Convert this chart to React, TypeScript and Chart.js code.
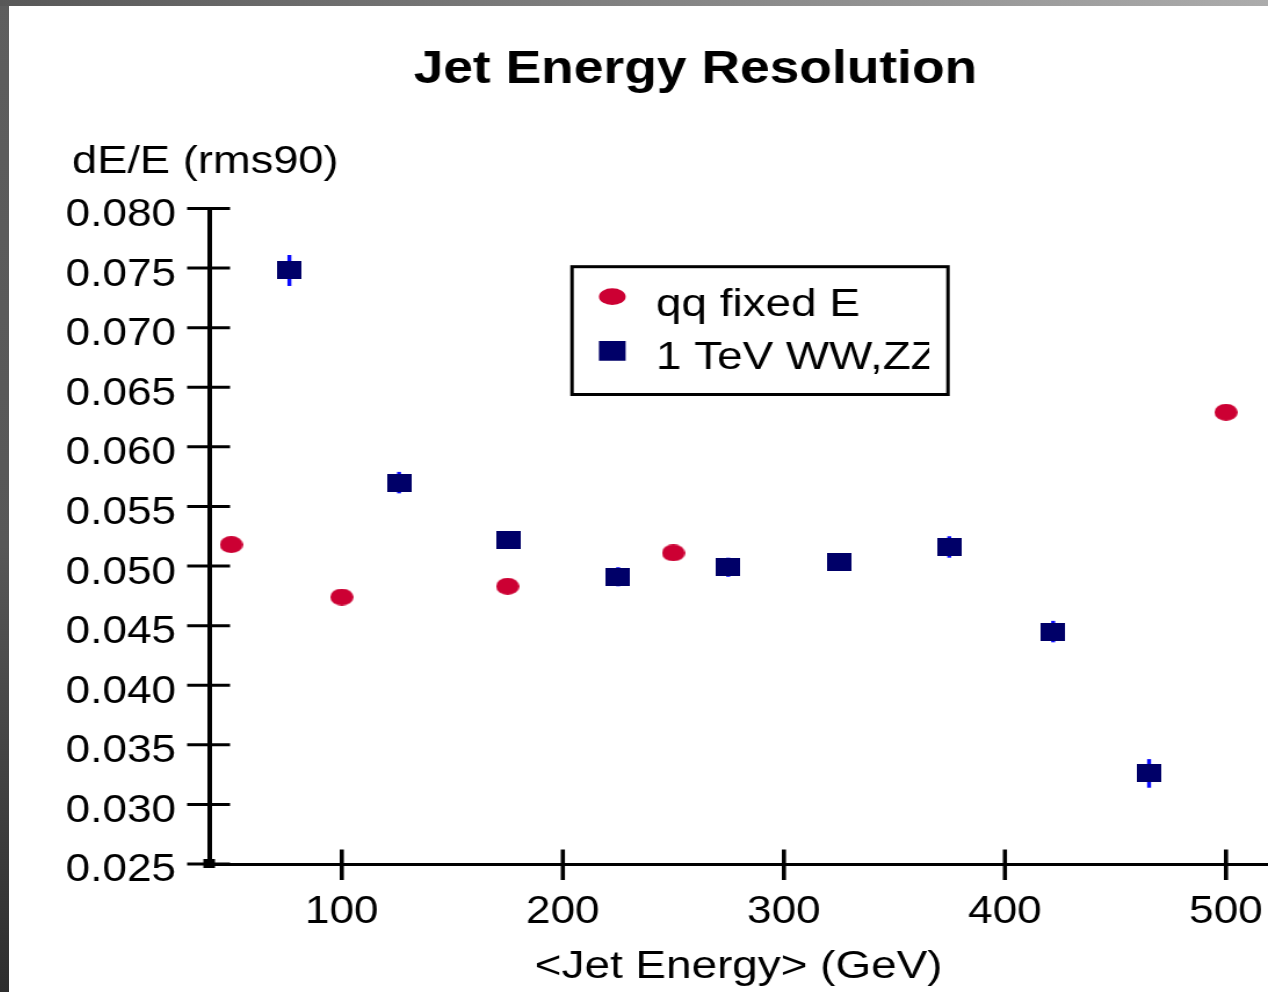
import React, { useEffect, useRef } from "react";
import { Chart, registerables } from "chart.js";

Chart.register(...registerables);

// ---- data -------------------------------------------------------------
const chartTitle = "Jet Energy Resolution";
const yCaption = "dE/E (rms90)";
const xCaption = "<Jet Energy> (GeV)";
const seriesLabels = ["qq fixed E", "1 TeV WW,ZZ"];

const qqEnergy = [50, 100, 175, 250, 500];
const qqResolution = [0.0518, 0.0474, 0.0483, 0.0511, 0.0629];

const wwEnergy = [76.3, 125.9, 175.2, 225, 274.8, 325, 374.8, 421.8, 465.2];
const wwResolution = [0.0748, 0.057, 0.0522, 0.0491, 0.0499, 0.0503, 0.0516, 0.0445, 0.0326];
const wwError = [0.0013, 0.0009, 0.0007, 0.0008, 0.0008, 0.0007, 0.0009, 0.0009, 0.0012];

const xTickValues = [100, 200, 300, 400, 500];
const yTickValues = [0.025, 0.03, 0.035, 0.04, 0.045, 0.05, 0.055, 0.06, 0.065, 0.07, 0.075, 0.08];

// ---- look -------------------------------------------------------------
const FONT = "'Liberation Sans', Arial, Helvetica, sans-serif";
const RED = "#cc0033";
const NAVY = "#000068";
const ERR_BLUE = "#0a0aff";

// the drawing surface is rendered narrower and widened by CSS,
// which gives the wide lettering and oval dots of the slide
const CANVAS_W = 1085;
const CANVAS_H = 986;
const DISPLAY_W = 1259;

const AREA_LEFT = 172.5;
const AREA_TOP = 202.5;
const AREA_BOTTOM = 858;

type MarkerKind = "ellipse" | "rect";

function drawMarker(
  ctx: CanvasRenderingContext2D,
  kind: MarkerKind,
  cx: number,
  cy: number,
  w: number,
  h: number,
  color: string
) {
  ctx.fillStyle = color;
  ctx.beginPath();
  if (kind === "ellipse") {
    ctx.ellipse(cx, cy, w / 2, h / 2, 0, 0, Math.PI * 2);
  } else {
    ctx.rect(cx - w / 2, cy - h / 2, w, h);
  }
  ctx.fill();
}

function markerImage(kind: MarkerKind, w: number, h: number, color: string) {
  const c = document.createElement("canvas");
  c.width = w;
  c.height = h;
  const ctx = c.getContext("2d")!;
  drawMarker(ctx, kind, w / 2, h / 2, w, h, color);
  return c;
}

// vertical error bars, painted under the markers
const errorBarPlugin = {
  id: "errorBars",
  beforeDatasetsDraw(chart: any, _args: any, opts: any) {
    const { ctx, scales } = chart;
    const xs = scales.x;
    const ys = scales.y;
    chart.data.datasets.forEach((ds: any) => {
      const errs: number[] | undefined = ds.yErrors;
      if (!errs) return;
      ctx.save();
      ctx.strokeStyle = opts.color;
      ctx.lineWidth = opts.width;
      ds.data.forEach((p: any, i: number) => {
        const px = xs.getPixelForValue(p.x);
        ctx.beginPath();
        ctx.moveTo(px, ys.getPixelForValue(p.y - errs[i]));
        ctx.lineTo(px, ys.getPixelForValue(p.y + errs[i]));
        ctx.stroke();
      });
      ctx.restore();
    });
  },
};

// tick marks that cross the axis lines
const crossTickPlugin = {
  id: "crossTicks",
  afterDraw(chart: any, _args: any, opts: any) {
    const { ctx, chartArea, scales } = chart;
    const xs = scales.x;
    const ys = scales.y;
    ctx.save();
    ctx.strokeStyle = opts.color;
    ctx.lineWidth = opts.yTickWidth;
    ys.ticks.forEach((t: any) => {
      const py = ys.getPixelForValue(t.value);
      ctx.beginPath();
      ctx.moveTo(chartArea.left - opts.yOut, py);
      ctx.lineTo(chartArea.left + opts.yIn, py);
      ctx.stroke();
    });
    ctx.lineWidth = opts.xTickWidth;
    xs.ticks.forEach((t: any) => {
      const px = xs.getPixelForValue(t.value);
      ctx.beginPath();
      ctx.moveTo(px, chartArea.bottom - opts.xIn);
      ctx.lineTo(px, chartArea.bottom + opts.xOut);
      ctx.stroke();
    });
    ctx.fillStyle = opts.color;
    ctx.fillRect(chartArea.left - 5, chartArea.bottom - 5, 10, 9);
    ctx.restore();
  },
};

// chart heading and the horizontal y-axis caption
const headingPlugin = {
  id: "heading",
  afterDraw(chart: any, _args: any, opts: any) {
    const { ctx } = chart;
    ctx.save();
    ctx.fillStyle = "#000000";
    ctx.textBaseline = "alphabetic";
    ctx.font = `bold ${opts.titleSize}px ${FONT}`;
    ctx.textAlign = "center";
    ctx.fillText(opts.title, opts.titleX, opts.titleBaseline);
    ctx.font = `${opts.captionSize}px ${FONT}`;
    ctx.textAlign = "left";
    ctx.fillText(opts.caption, opts.captionX, opts.captionBaseline);
    ctx.restore();
  },
};

// framed legend built from the datasets
const boxLegendPlugin = {
  id: "boxLegend",
  afterDraw(chart: any, _args: any, opts: any) {
    const { ctx } = chart;
    const b = opts.box;
    ctx.save();
    ctx.fillStyle = "#ffffff";
    ctx.fillRect(b.left, b.top, b.right - b.left, b.bottom - b.top);
    ctx.strokeStyle = "#000000";
    ctx.lineWidth = opts.borderWidth;
    ctx.strokeRect(b.left, b.top, b.right - b.left, b.bottom - b.top);

    ctx.beginPath();
    ctx.rect(b.left, b.top, opts.clipRight - b.left, b.bottom - b.top);
    ctx.clip();

    chart.data.datasets.forEach((ds: any, i: number) => {
      const [w, h] = opts.markerSizes[i];
      drawMarker(ctx, ds.markerKind, opts.markerX, opts.markerY[i], w, h, ds.markerColor);
      ctx.fillStyle = "#000000";
      ctx.font = `${opts.size}px ${FONT}`;
      ctx.textAlign = "left";
      ctx.textBaseline = "alphabetic";
      ctx.fillText(ds.label, opts.textX, opts.textBaseline[i]);
    });
    ctx.restore();
  },
};

export default function App() {
  const canvasRef = useRef<HTMLCanvasElement | null>(null);

  useEffect(() => {
    const canvas = canvasRef.current;
    if (!canvas) return;

    const ellipseImg = markerImage("ellipse", 20, 17, RED);
    const squareImg = markerImage("rect", 21, 18, NAVY);

    const chart = new Chart(canvas, {
      type: "scatter",
      data: {
        datasets: [
          {
            label: seriesLabels[0],
            data: qqEnergy.map((e, i) => ({ x: e, y: qqResolution[i] })),
            pointStyle: ellipseImg,
            pointRadius: 10,
            markerKind: "ellipse",
            markerColor: RED,
          } as any,
          {
            label: seriesLabels[1],
            data: wwEnergy.map((e, i) => ({ x: e, y: wwResolution[i] })),
            pointStyle: squareImg,
            pointRadius: 10,
            yErrors: wwError,
            markerKind: "rect",
            markerColor: NAVY,
          } as any,
        ],
      },
      options: {
        animation: false,
        responsive: false,
        devicePixelRatio: 1,
        events: [],
        layout: {
          autoPadding: false,
          padding: { left: 0, right: 0, top: AREA_TOP, bottom: 0 },
        },
        plugins: {
          legend: { display: false },
          title: { display: false },
          tooltip: { enabled: false },
          errorBars: { color: ERR_BLUE, width: 3.4 },
          crossTicks: {
            color: "#000000",
            yTickWidth: 3,
            xTickWidth: 3.6,
            yOut: 19,
            yIn: 18,
            xIn: 14.5,
            xOut: 16,
          },
          heading: {
            title: chartTitle,
            titleSize: 46,
            titleX: 591.5,
            titleBaseline: 77,
            caption: yCaption,
            captionSize: 39,
            captionX: 54.3,
            captionBaseline: 167,
          },
          boxLegend: {
            box: { left: 485.2, top: 260.7, right: 809.2, bottom: 388.5 },
            borderWidth: 3,
            clipRight: 793,
            markerX: 519.9,
            markerY: [290.7, 344.8],
            markerSizes: [
              [23, 16.7],
              [23, 19.7],
            ],
            textX: 557.6,
            textBaseline: [309.5, 362.8],
            size: 39.5,
          },
        } as any,
        scales: {
          x: {
            type: "linear",
            min: 40,
            max: 519,
            afterBuildTicks: (s: any) => {
              s.ticks = xTickValues.map((v) => ({ value: v }));
            },
            afterFit: (s: any) => {
              s.height = CANVAS_H - AREA_BOTTOM;
              s.paddingLeft = 0;
              s.paddingRight = 0;
            },
            grid: { display: false, drawTicks: false },
            border: { display: true, color: "#000000", width: 3 },
            ticks: {
              color: "#000000",
              font: { family: FONT, size: 38 },
              padding: 26,
              maxRotation: 0,
              autoSkip: false,
            },
            title: {
              display: true,
              text: xCaption,
              color: "#000000",
              font: { family: FONT, size: 39.5 },
              padding: { top: 0, bottom: 1.5 },
            },
          },
          y: {
            type: "linear",
            min: 0.025,
            max: 0.08,
            afterBuildTicks: (s: any) => {
              s.ticks = yTickValues.map((v) => ({ value: v }));
            },
            afterFit: (s: any) => {
              s.width = AREA_LEFT;
            },
            grid: { display: false, drawTicks: false },
            border: { display: true, color: "#000000", width: 4 },
            ticks: {
              color: "#000000",
              font: { family: FONT, size: 38 },
              padding: 28.6,
              labelOffset: 7,
              autoSkip: false,
              callback: (v: any) => Number(v).toFixed(3),
            },
          },
        },
      },
      plugins: [errorBarPlugin, crossTickPlugin, headingPlugin, boxLegendPlugin],
    } as any);

    return () => chart.destroy();
  }, []);

  return (
    <div
      style={{
        position: "fixed",
        left: 0,
        top: 0,
        width: 1268,
        height: 992,
        background: "#5a5a5a",
        overflow: "hidden",
      }}
    >
      <div
        style={{
          position: "absolute",
          left: 0,
          top: 0,
          width: 9,
          height: "100%",
          background: "linear-gradient(to bottom, #5e5e5e 0%, #575757 55%, #2e2e2e 100%)",
        }}
      />
      <div
        style={{
          position: "absolute",
          left: 0,
          top: 0,
          width: "100%",
          height: 6,
          background: "linear-gradient(to right, #585858, #acacac)",
        }}
      />
      <div
        style={{
          position: "absolute",
          left: 9,
          top: 6,
          right: 0,
          bottom: 0,
          background: "#ffffff",
        }}
      >
        <canvas
          ref={canvasRef}
          width={CANVAS_W}
          height={CANVAS_H}
          style={{ display: "block", width: `${DISPLAY_W}px`, height: `${CANVAS_H}px` }}
        />
      </div>
    </div>
  );
}
